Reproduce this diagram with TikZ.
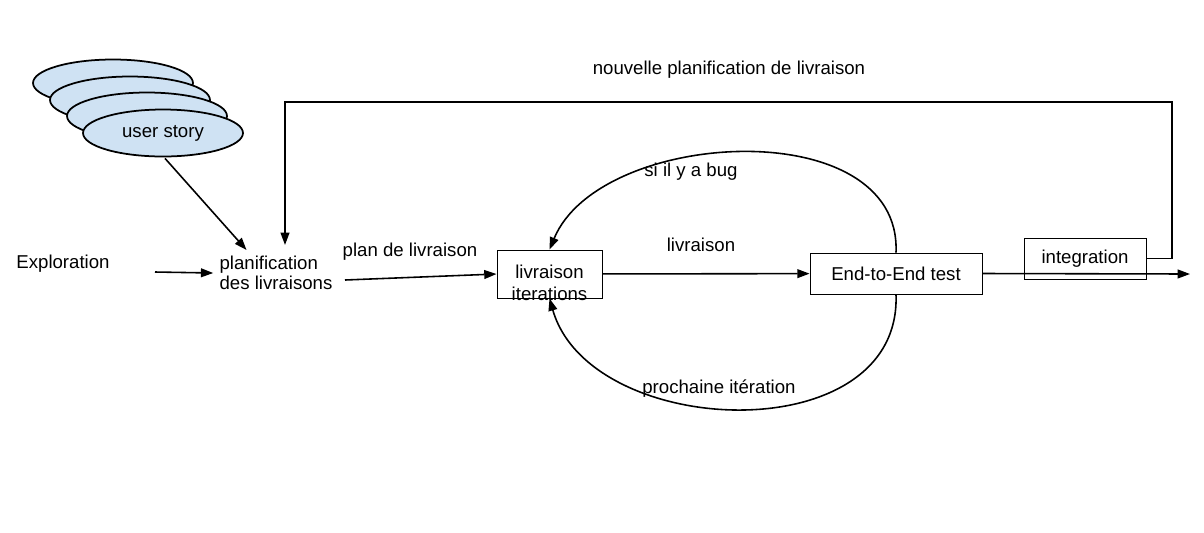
\documentclass[tikz,border=0pt]{standalone}
\usepackage{fontspec}
\setmainfont{Liberation Sans}
\usepackage{tikz}
\usetikzlibrary{shapes.geometric, arrows.meta}
\definecolor{storyblue}{RGB}{207,226,243}
\tikzstyle{txt}=[inner sep = .12 cm, font = \fontsize{10.6}{11.2}\selectfont]
\tikzstyle{box}=[draw, line width = .5pt, inner sep = 0 cm]
\tikzstyle{story}=[ellipse, draw, line width = 1pt, fill = storyblue, minimum width = 3.2 cm, minimum height = .94 cm, inner sep = 0 cm]
\tikzstyle{flow}=[line width = .9pt, -{Triangle[length = 7pt, width = 5pt]}]

\begin{document}
\begin{tikzpicture}[x = .02cm, y = -.02cm]
  \useasboundingbox (0,0) rectangle (1204,532);
  % stack of user stories
  \foreach \cx/\cy in {113/83, 130/100, 147/116}
    \node[story] at (\cx,\cy) {};
  \node[story, txt] (us) at (163,133) {user story};

  \node[txt] (expl) at (63,264) {Exploration};
  \node[txt, align = left] (plan) at (276,273) {planification\\des livraisons};
  \node[txt] at (410,252) {plan de livraison};
  \node[txt] at (729,70) {nouvelle planification de livraison};

  % boxes
  \node[box, minimum width = 2.1 cm, minimum height = .96 cm] (iter) at (549.5,274) {};
  \node[txt, align = center] (itertxt) at (549.5,283) {livraison\\[1.5pt]iterations};
  \node[box, txt, minimum width = 3.44 cm, minimum height = .82 cm] (test) at (896,273.5) {End-to-End test};
  \node[box, txt, minimum width = 2.44 cm, minimum height = .82 cm] (integ) at (1085,258.5) {integration};

  \node[txt] at (701,245) {livraison};
  \node[txt] at (691,172) {si il y a bug};
  \node[txt] at (719,389) {prochaine itération};

  \coordinate (ex) at (155,272);
  \coordinate (pl) at (345,280);
  \coordinate (out) at (1190,274);
  \coordinate (tr) at (1172,102);
  \coordinate (tl) at (285,102);

  \draw[flow] (ex) -- (plan.west);
  \draw[flow] (us.south) ++(2,1) -- (plan.142);
  \draw[flow] (pl) -- (iter.west);
  \draw[flow] (iter) -- (test);
  \draw[flow] (test.east) -- (out);
  \draw[flow] (integ.east) -| (tr) -- (tl) -- ([yshift = .1 cm]tl |- plan.north);
  % loops between iterations and test
  \draw[flow] (test.north) .. controls (902,112) and (600,128) .. (iter.north);
  \draw[flow] (test.south) .. controls (902,452) and (590,440) .. (iter.south);
\end{tikzpicture}
\end{document}
